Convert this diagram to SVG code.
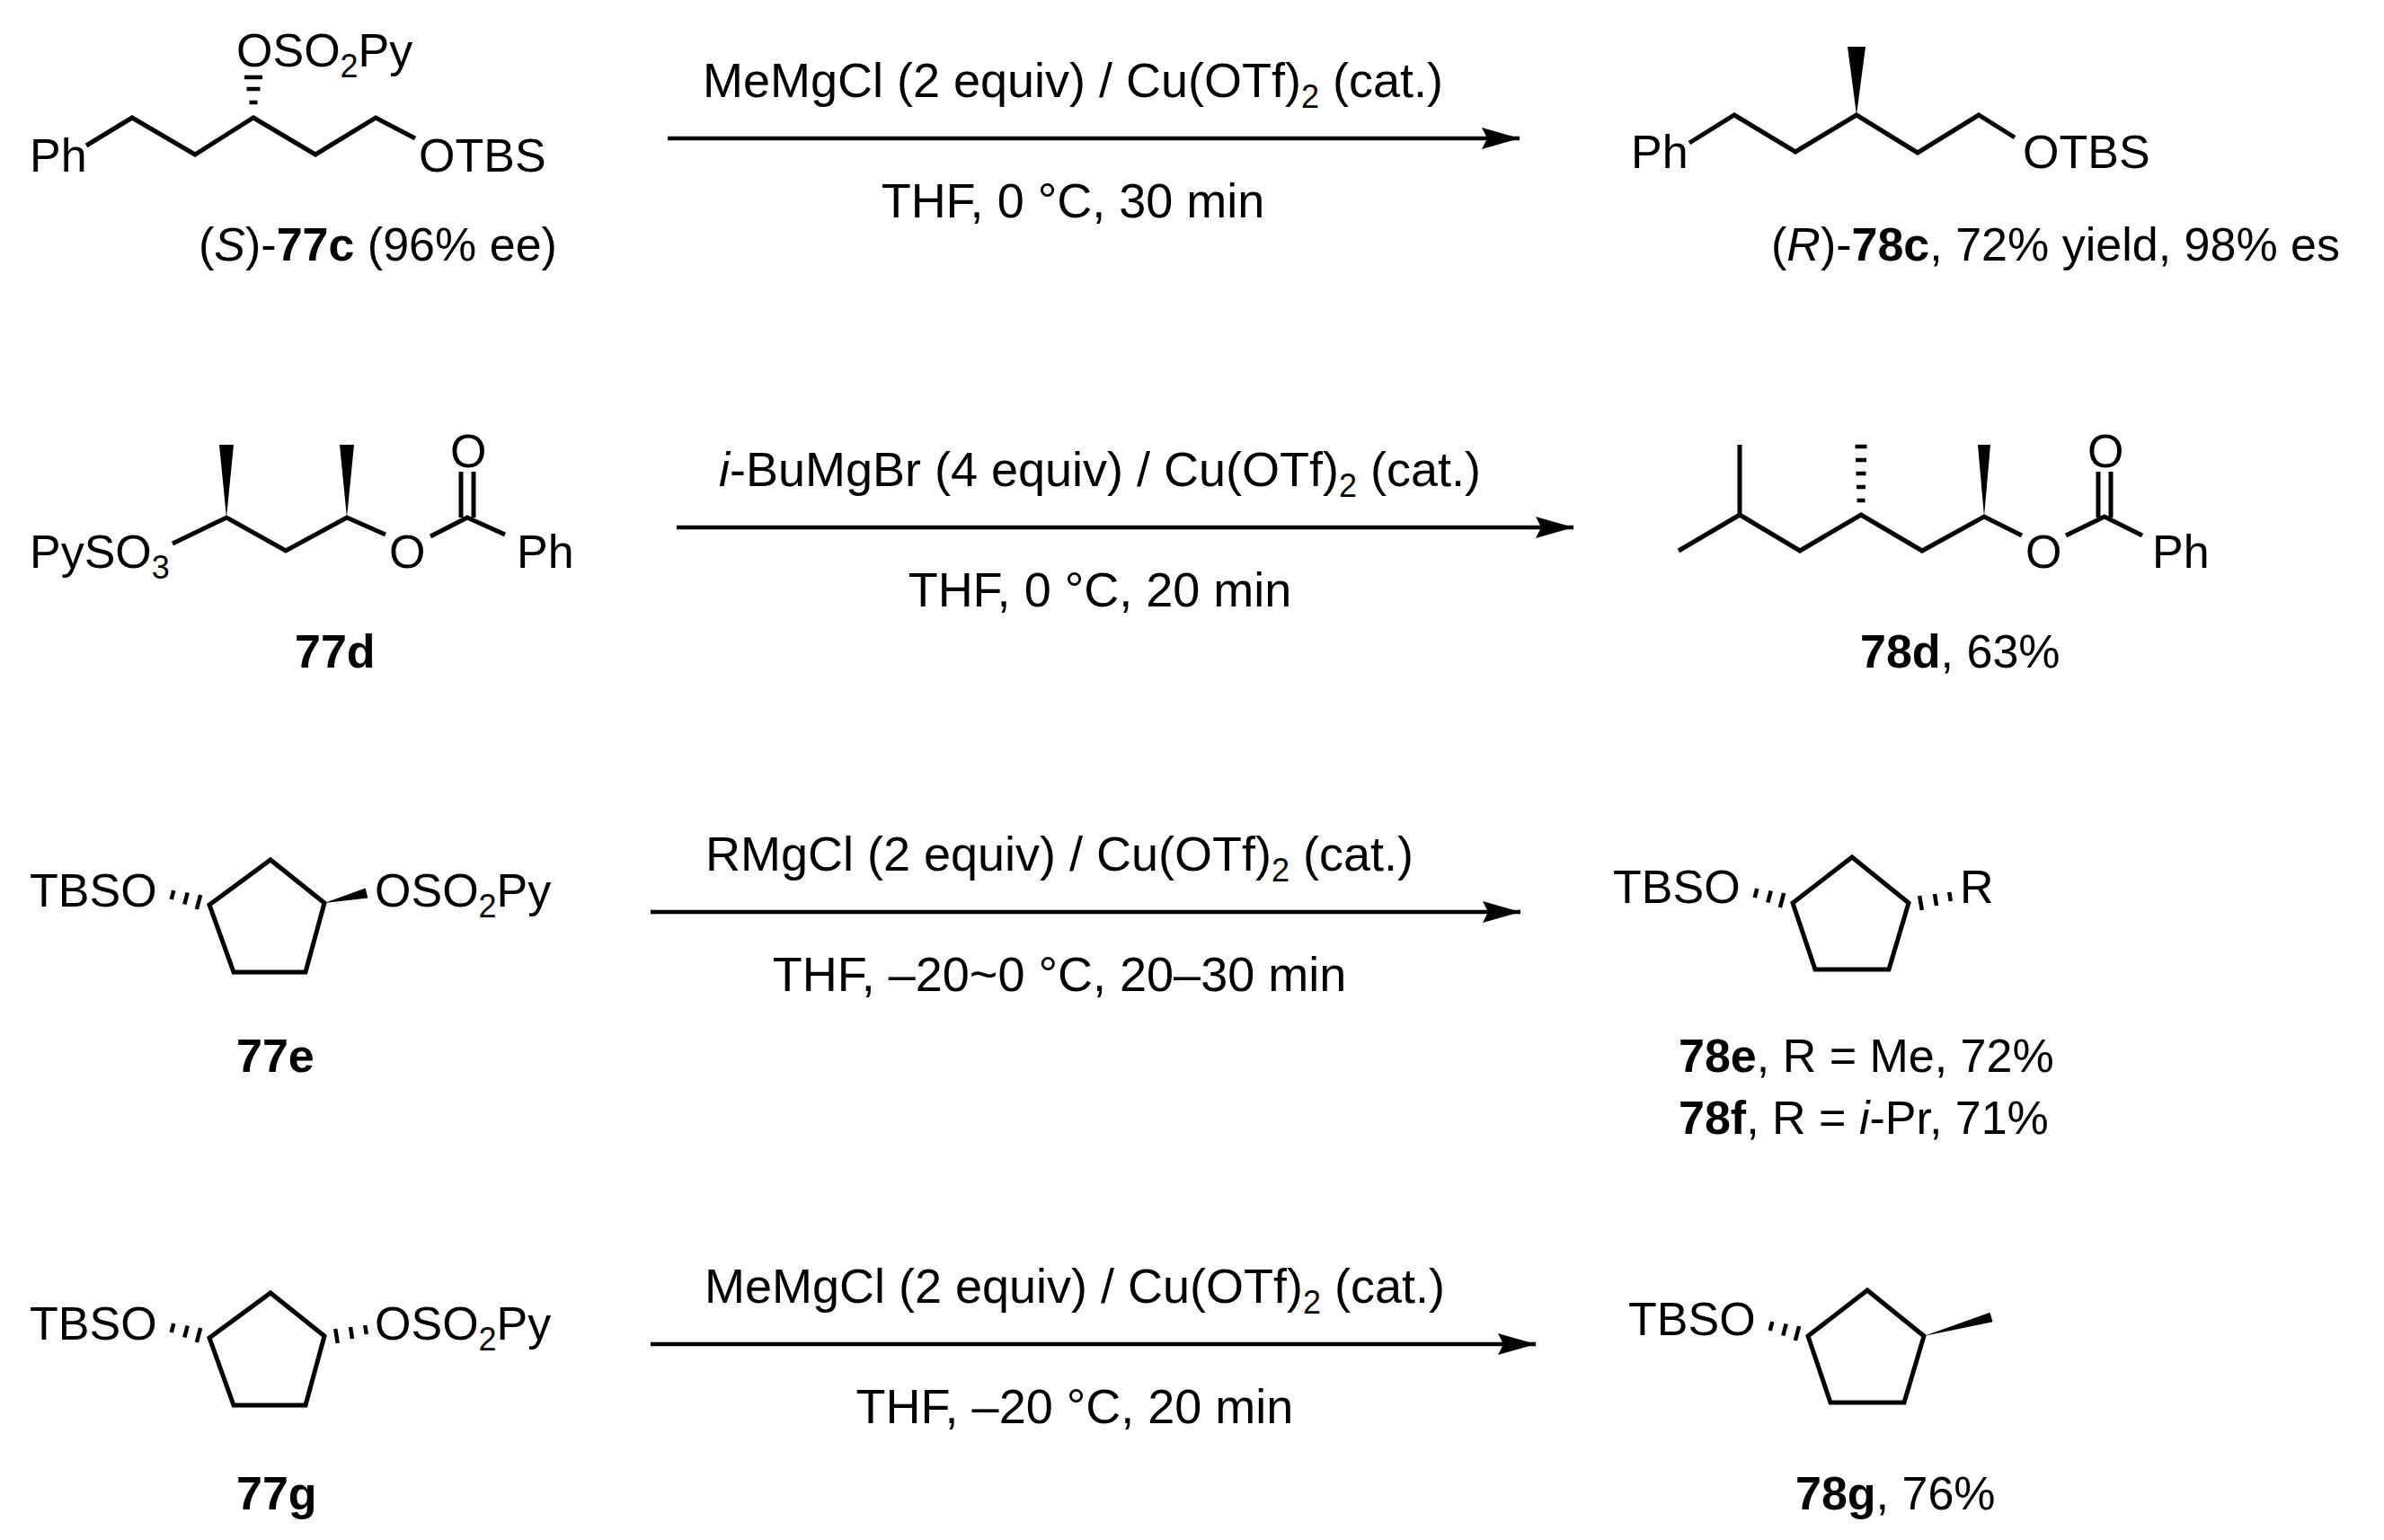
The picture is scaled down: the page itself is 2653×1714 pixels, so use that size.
<svg xmlns="http://www.w3.org/2000/svg" width="2653" height="1714" viewBox="0 0 2653 1714">
<defs>
<style>
text{font-family:"Liberation Sans",Arial,sans-serif;font-size:52px;fill:#000}
.r{font-size:54px;text-anchor:middle}
.b{font-weight:bold}
.i{font-style:italic}
.bond{fill:none;stroke:#000;stroke-width:5;stroke-linejoin:miter;stroke-linecap:butt}
.h{stroke:#000;stroke-width:4.5}
.w{fill:#000}
.arr{stroke:#000;stroke-width:4.5;fill:none}
</style>
<marker id="ah" markerUnits="userSpaceOnUse" markerWidth="46" markerHeight="26" refX="42" refY="12" orient="auto">
<path d="M0,0 L42,12 L0,24 L6,12 z" fill="#000"/>
</marker>
</defs>
<rect width="2653" height="1714" fill="#fff"/>

<g id="connectors">
<line class="arr" x1="743" y1="154" x2="1691" y2="154" marker-end="url(#ah)"/>
<line class="arr" x1="753" y1="587" x2="1751" y2="587" marker-end="url(#ah)"/>
<line class="arr" x1="724" y1="1015" x2="1692" y2="1015" marker-end="url(#ah)"/>
<line class="arr" x1="724" y1="1496" x2="1709" y2="1496" marker-end="url(#ah)"/>
</g>

<g id="cond1">
<text class="r" x="1194" y="108">MeMgCl (2 equiv) / Cu(OTf)<tspan font-size="36" dy="12">2</tspan><tspan dy="-12"> (cat.)</tspan></text>
<text class="r" x="1194" y="242">THF, 0 °C, 30 min</text>
</g>
<g id="cond2">
<text class="r" x="1224" y="541"><tspan class="i">i</tspan>-BuMgBr (4 equiv) / Cu(OTf)<tspan font-size="36" dy="12">2</tspan><tspan dy="-12"> (cat.)</tspan></text>
<text class="r" x="1224" y="675">THF, 0 °C, 20 min</text>
</g>
<g id="cond3">
<text class="r" x="1179" y="969">RMgCl (2 equiv) / Cu(OTf)<tspan font-size="36" dy="12">2</tspan><tspan dy="-12"> (cat.)</tspan></text>
<text class="r" x="1179" y="1103">THF, –20~0 °C, 20–30 min</text>
</g>
<g id="cond4">
<text class="r" x="1196" y="1450">MeMgCl (2 equiv) / Cu(OTf)<tspan font-size="36" dy="12">2</tspan><tspan dy="-12"> (cat.)</tspan></text>
<text class="r" x="1196" y="1584">THF, –20 °C, 20 min</text>
</g>

<g id="s77c">
<text x="33" y="191">Ph</text>
<polyline class="bond" points="96,162 147,131 217,172 282,131 351,172 418,131 462,154"/>
<text x="466" y="191">OTBS</text>
<text x="263" y="74">OSO<tspan font-size="36" dy="12">2</tspan><tspan dy="-12">Py</tspan></text>
<line class="h" x1="272" y1="86" x2="292" y2="86"/>
<line class="h" x1="274.5" y1="99" x2="289.5" y2="99"/>
<line class="h" x1="277.5" y1="114" x2="286.5" y2="114"/>
<text x="221" y="290">(<tspan class="i">S</tspan>)-<tspan class="b">77c</tspan> (96% ee)</text>
</g>

<g id="s78c">
<text x="1815" y="187">Ph</text>
<polyline class="bond" points="1880,159 1930,128 1998,169 2066,128 2134,170 2202,128 2242,153"/>
<polygon class="w" points="2066,128 2076,52 2056,52"/>
<text x="2251" y="187">OTBS</text>
<text x="1971" y="290">(<tspan class="i">R</tspan>)-<tspan class="b">78c</tspan>, 72% yield, 98% es</text>
</g>

<g id="s77d">
<text x="33" y="632">PySO<tspan font-size="36" dy="12">3</tspan></text>
<polyline class="bond" points="192,605 252,576 318,613 386,576 429,595"/>
<polygon class="w" points="252,576 260,495 244,495"/>
<polygon class="w" points="386,576 394,495 378,495"/>
<text x="433" y="632">O</text>
<polyline class="bond" points="479,597 520,576 562,595"/>
<line class="bond" x1="513" y1="525" x2="513" y2="576"/>
<line class="bond" x1="527" y1="525" x2="527" y2="576"/>
<text x="501" y="520">O</text>
<text x="575" y="632">Ph</text>
<text class="b" x="328" y="743">77d</text>
</g>

<g id="s78d">
<polyline class="bond" points="1868,613 1936,573 2003,613 2071,573 2139,613 2208,575 2250,596"/>
<line class="bond" x1="1936" y1="573" x2="1936" y2="495"/>
<line class="h" x1="2064.5" y1="497" x2="2077.5" y2="497"/>
<line class="h" x1="2065" y1="512" x2="2077" y2="512"/>
<line class="h" x1="2065.5" y1="527" x2="2076.5" y2="527"/>
<line class="h" x1="2066" y1="542" x2="2076" y2="542"/>
<line class="h" x1="2066.5" y1="557" x2="2075.5" y2="557"/>
<polygon class="w" points="2208,575 2215,495 2201,495"/>
<text x="2254" y="632">O</text>
<polyline class="bond" points="2299,596 2342,575 2384,596"/>
<line class="bond" x1="2335" y1="525" x2="2335" y2="576"/>
<line class="bond" x1="2349" y1="525" x2="2349" y2="576"/>
<text x="2323" y="520">O</text>
<text x="2395" y="632">Ph</text>
<text x="2070" y="743"><tspan class="b">78d</tspan>, 63%</text>
</g>

<g id="s77e">
<text x="33" y="1009">TBSO</text>
<line class="h" x1="193.3" y1="991" x2="190.7" y2="1001"/>
<line class="h" x1="208.7" y1="993.5" x2="205.3" y2="1006.5"/>
<line class="h" x1="223.1" y1="996" x2="218.9" y2="1012"/>
<polygon class="bond" points="233,1007 301,957 361,1005 340,1082 260,1082"/>
<polygon class="w" points="361,1005 409.3,999.4 406.7,988.6"/>
<text x="417" y="1009">OSO<tspan font-size="36" dy="12">2</tspan><tspan dy="-12">Py</tspan></text>
<text class="b" x="263" y="1193">77e</text>
</g>

<g id="s78e">
<text x="1795" y="1005">TBSO</text>
<line class="h" x1="1955.3" y1="989" x2="1952.7" y2="999"/>
<line class="h" x1="1970.7" y1="991.5" x2="1967.3" y2="1004.5"/>
<line class="h" x1="1985.1" y1="994" x2="1980.9" y2="1010"/>
<polygon class="bond" points="1995,1005 2061,954 2124,1005 2102,1079 2020,1079"/>
<line class="h" x1="2138.8" y1="1013" x2="2136.2" y2="997"/>
<line class="h" x1="2155" y1="1008" x2="2153" y2="995"/>
<line class="h" x1="2170.8" y1="1003" x2="2169.2" y2="993"/>
<text x="2181" y="1005">R</text>
<text x="1868" y="1193"><tspan class="b">78e</tspan>, R = Me, 72%</text>
<text x="1868" y="1262"><tspan class="b">78f</tspan>, R = <tspan class="i">i</tspan>-Pr, 71%</text>
</g>

<g id="s77g">
<text x="33" y="1491">TBSO</text>
<line class="h" x1="193.3" y1="1473" x2="190.7" y2="1483"/>
<line class="h" x1="208.7" y1="1475.5" x2="205.3" y2="1488.5"/>
<line class="h" x1="223.1" y1="1478" x2="218.9" y2="1494"/>
<polygon class="bond" points="233,1489 301,1439 361,1487 340,1564 260,1564"/>
<line class="h" x1="375.8" y1="1495" x2="373.2" y2="1479"/>
<line class="h" x1="392" y1="1490" x2="390" y2="1477"/>
<line class="h" x1="407.8" y1="1485" x2="406.2" y2="1475"/>
<text x="417" y="1491">OSO<tspan font-size="36" dy="12">2</tspan><tspan dy="-12">Py</tspan></text>
<text class="b" x="263" y="1680">77g</text>
</g>

<g id="s78g">
<text x="1812" y="1486">TBSO</text>
<line class="h" x1="1972.3" y1="1471" x2="1969.7" y2="1481"/>
<line class="h" x1="1987.7" y1="1473.5" x2="1984.3" y2="1486.5"/>
<line class="h" x1="2002.1" y1="1476" x2="1997.9" y2="1492"/>
<polygon class="bond" points="2012,1487 2078,1436 2141,1487 2119,1561 2037,1561"/>
<polygon class="w" points="2141,1487 2217.5,1471.3 2214.5,1460.7"/>
<text x="1998" y="1680"><tspan class="b">78g</tspan>, 76%</text>
</g>
</svg>
